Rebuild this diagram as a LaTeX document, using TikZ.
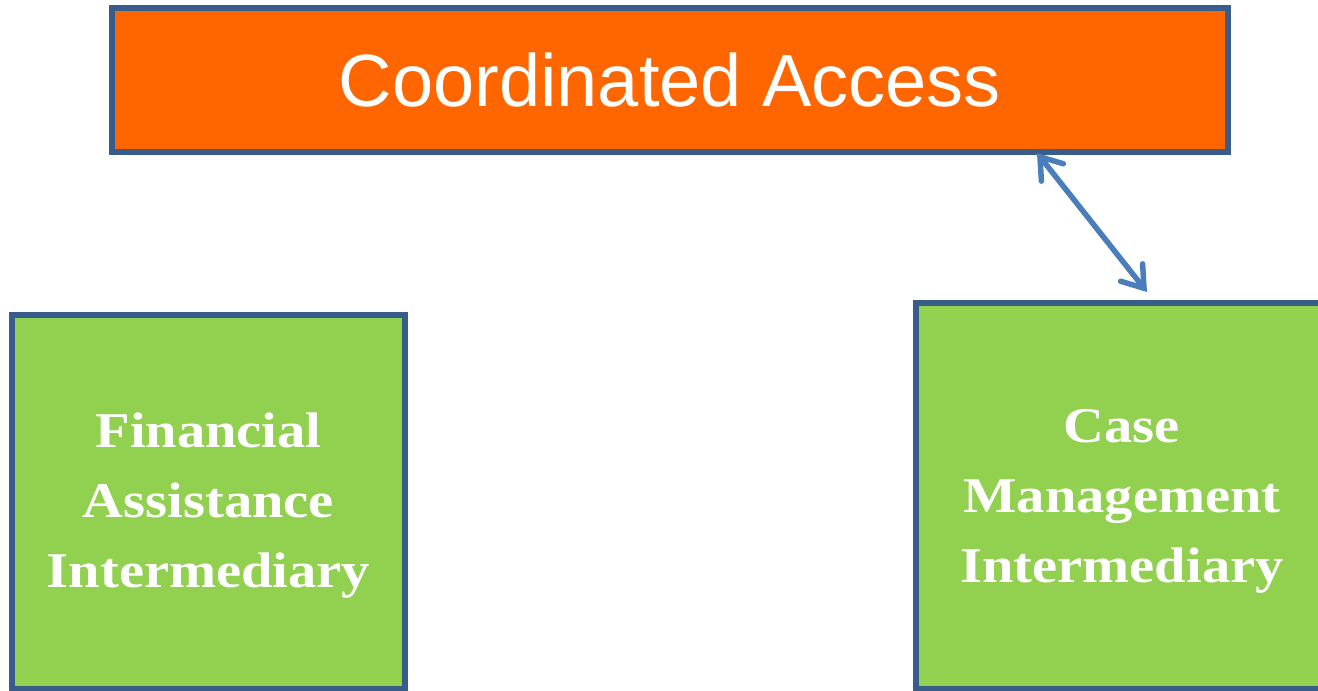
\documentclass[tikz,border=0pt]{standalone}
\usepackage{fontspec}
\setmainfont{Liberation Serif}
\newfontfamily\headfont{Liberation Sans}
\newfontfamily\boxfont[FakeStretch=1.13]{Liberation Serif}
\usetikzlibrary{arrows.meta,calc}
\definecolor{borderblue}{HTML}{385D8A}
\definecolor{arrowblue}{HTML}{4A7EBB}
\definecolor{caorange}{HTML}{FF6600}
\definecolor{boxgreen}{HTML}{92D050}
\tikzset{
  panel/.style={draw=borderblue, line width=6pt, inner sep=0pt, outer sep=0pt},
  greenpanel/.style={panel, fill=boxgreen},
  boxlabel/.style={text=white, align=center, inner sep=0pt,
    font=\boxfont\bfseries\fontsize{50}{70}\selectfont},
  link/.style={draw=arrowblue, line width=5.5pt,
    {Straight Barb[length=20pt,width=28pt,line cap=round]}-{Straight Barb[length=20pt,width=28pt,line cap=round]}}
}
\begin{document}
\begin{tikzpicture}[x=1pt,y=-1pt]
\useasboundingbox (0,0) rectangle (1318,691);
\clip (0,0) rectangle (1318,691);
\node[panel, fill=caorange, minimum width=1116pt, minimum height=144pt,
      text=white, font=\headfont\fontsize{74}{86}\selectfont] (ca) at (670,80) {Coordinated Access};
\node[greenpanel, minimum width=393pt, minimum height=374pt] (fa) at (208.5,502) {};
\node[greenpanel, minimum width=412pt, minimum height=386pt] (cm) at (1122,496) {};
\node[boxlabel] (fat) at ($(fa.center)+(0,4)$) {Financial\\Assistance\\Intermediary};
\node[boxlabel] (cmt) at ($(cm.center)+(0,5)$) {Case\\Management\\Intermediary};
\coordinate (a1) at ($(ca.south)+(367,1)$);
\coordinate (a2) at ($(cm.north)+(25,-11)$);
\draw[link] (a1) -- (a2);
\end{tikzpicture}
\end{document}
